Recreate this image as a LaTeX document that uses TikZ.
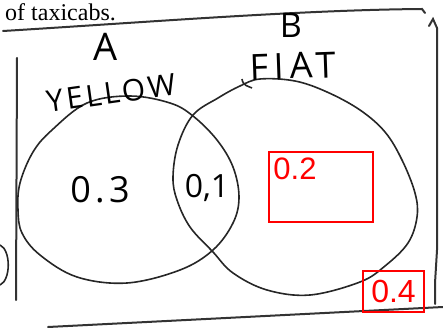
\documentclass[tikz,border=0pt]{standalone}
\usepackage{fontspec}
\setmainfont{Liberation Serif}
\newfontfamily\handfont{Open Sans}
\newfontfamily\notefont{Liberation Sans}
\begin{document}
\begin{tikzpicture}[x=1pt, y=-1pt,
        frame/.style={draw=black!80, line width=2pt, line cap=round},
        setline/.style={draw=black!85, line width=1.6pt},
        hand/.style={inner sep=0pt, font=\handfont\fontsize{#1}{#1}\selectfont},
        redbox/.style={draw=red, line width=1.5pt, inner sep=0pt, text=red, font=\notefont\fontsize{32}{32}\selectfont},
        ]
        \useasboundingbox (0,0) rectangle (443,328);
        % Heading text of the page
        \node[anchor=base west, inner sep=0pt, font=\fontsize{24}{26}\selectfont] (head) at (5,21) {of taxicabs.};
        % Frame lines (sample space)
        \draw[frame] (3,31) .. controls (150,22) and (300,10) .. (422,9) -- (425,13);
        \draw[frame] (429,26) -- (433,19) -- (437,28) -- (437,250) -- (435,283) -- (435,304);
        \draw[frame] (17,58) -- (16,300);
        \draw[frame] (48,327) -- (443,307);
        \draw[setline] (0,245) .. controls (11,250) and (11,280) .. (0,285);
        
        % Set A
        \draw[setline] plot[smooth cycle, tension=0.6] coordinates {
            (18,210) (20,183) (33,152) (52,130) (87,103) (130,96) (170,103) (193,116)
            (217,140) (233,167) (239,197) (233,223) (213,250) (180,270) (127,283)
            (77,277) (40,255) (22,233)};
        % Set B
        \draw[setline] plot[smooth cycle, tension=0.6] coordinates {
            (260,79) (295,81) (327,92) (360,110) (385,132) (402,160) (415,193) (417,217)
            (408,243) (385,266) (360,282) (310,295) (267,290) (233,273) (213,252)
            (190,227) (177,200) (173,177) (178,145) (193,115) (218,98) (240,86)};
        \draw[setline] (242,79) .. controls (243,86) and (248,86) .. (252,88);
        
        % Labels
        \node[hand=38] (labA) at (106,47) {A};
        \node[hand=30, rotate=8] (labyellow) at (111,93) {\addfontfeature{LetterSpace=10}YELLOW};
        \node[hand=34] (labB) at (291,25) {B};
        \node[hand=36, rotate=2] (labfiat) at (293,66) {\addfontfeature{LetterSpace=16}FIAT};
        \node[hand=36] (onlyA) at (100,190) {\addfontfeature{LetterSpace=12}0.3};
        \node[hand=32] (both) at (207,188) {0,1};
        
        % Added values
        \node[redbox, minimum width=104pt, minimum height=70pt] (box2) at (321,187) {};
        \node[anchor=north west, inner sep=0pt, text=red, font=\notefont\fontsize{31}{31}\selectfont] (onlyB) at ([shift={(5,6)}]box2.north west) {0.2};
        \node[redbox, minimum width=61pt, minimum height=41pt] (box4) at (393.5,291.5) {0.4};
        
    \end{tikzpicture}
\end{document}
